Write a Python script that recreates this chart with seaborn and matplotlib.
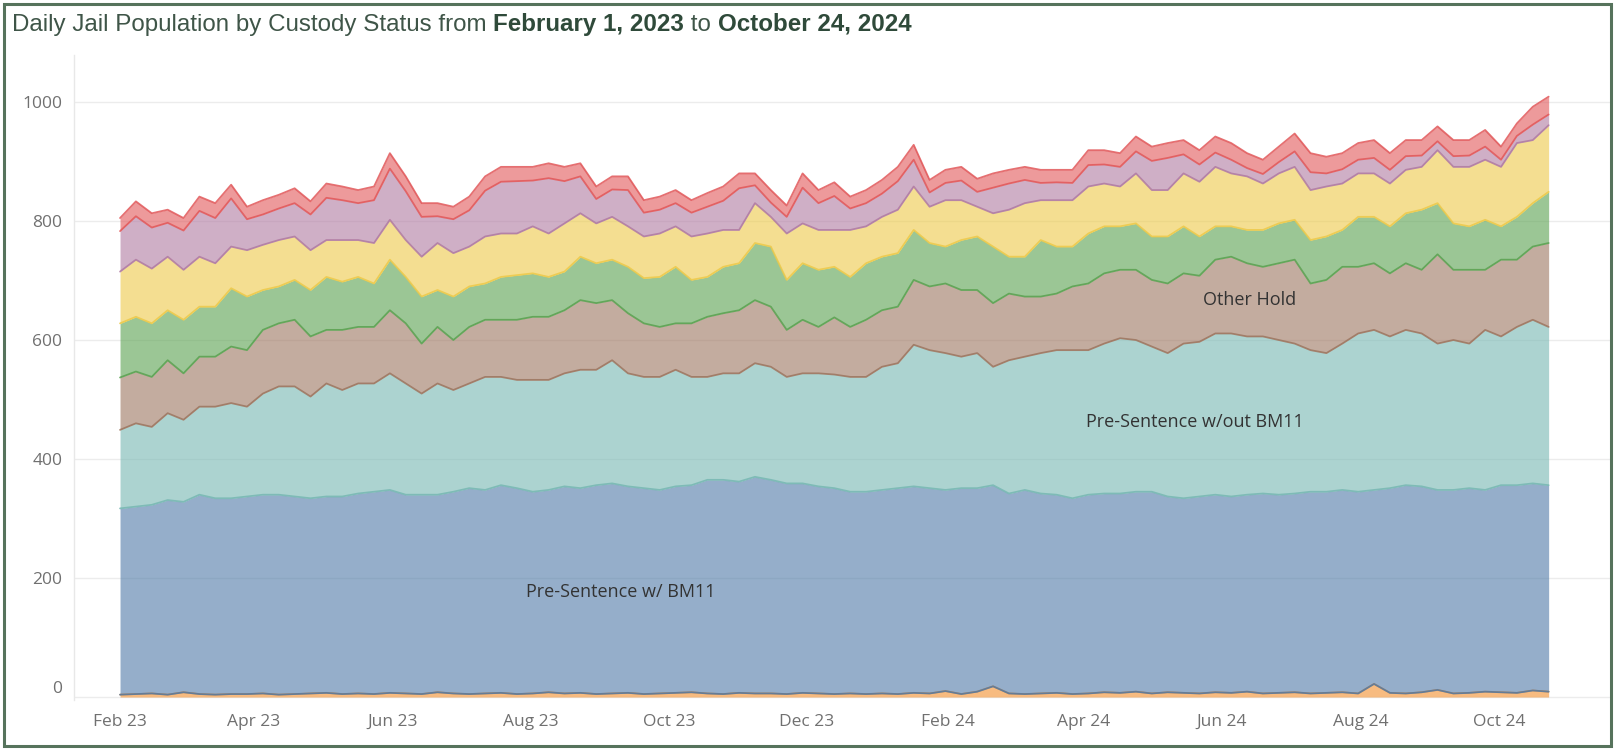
import numpy as np
import pandas as pd
import matplotlib
matplotlib.use("Agg")
import matplotlib.pyplot as plt
import matplotlib.dates as mdates
from matplotlib.patches import Rectangle
import seaborn as sns

# weekly readings, first week starts 1 Feb 2023
start_date = "2023-02-01"

status_orange = [4, 5, 6, 4, 8, 5, 4, 5, 5, 6, 4, 5, 6, 7, 5, 6, 5, 7, 6, 5, 8, 6, 5,
                 6, 7, 5, 6, 8, 6, 7, 5, 6, 7, 5, 6, 7, 8, 6, 5, 7, 6, 6, 5, 7, 6, 5,
                 6, 5, 6, 5, 7, 6, 10, 5, 9, 18, 6, 5, 6, 7, 5, 6, 8, 7, 9, 6, 8, 7, 6,
                 8, 7, 9, 6, 7, 8, 6, 7, 8, 6, 22, 7, 6, 8, 12, 6, 7, 9, 8, 7, 11, 9]

pre_bm11 = [313, 315, 317, 327, 320, 335, 330, 329, 332, 334, 336, 332, 328, 330, 332, 336, 340, 341, 334, 335, 332, 339, 346,
            342, 349, 346, 339, 340, 348, 344, 351, 353, 347, 346, 342, 347, 348, 359, 360, 355, 364, 359, 354, 352, 348, 346,
            339, 340, 342, 346, 347, 345, 338, 346, 342, 338, 336, 343, 336, 333, 329, 334, 334, 335, 336, 339, 329, 327, 331,
            332, 330, 331, 336, 333, 334, 339, 338, 340, 339, 326, 344, 350, 346, 336, 342, 344, 339, 348, 349, 348, 347]

pre_no_bm11 = [132, 140, 131, 146, 138, 148, 154, 160, 151, 170, 182, 185, 171, 190, 179, 185, 182, 196, 187, 170, 187, 171, 176,
               190, 182, 182, 188, 185, 190, 199, 194, 207, 190, 187, 190, 196, 182, 173, 179, 182, 191, 190, 179, 185, 190, 191,
               193, 193, 207, 210, 238, 232, 230, 221, 227, 199, 224, 224, 236, 243, 249, 243, 252, 261, 255, 244, 241, 260, 260,
               271, 274, 266, 264, 260, 252, 238, 233, 246, 266, 269, 255, 261, 257, 246, 252, 243, 269, 250, 266, 275, 266]

other_hold = [88, 87, 84, 89, 78, 84, 84, 95, 95, 107, 106, 112, 101, 90, 101, 95, 95, 106, 101, 84, 95, 84, 95,
              96, 96, 101, 106, 106, 106, 117, 112, 101, 101, 90, 84, 78, 90, 101, 101, 106, 106, 101, 79, 90, 78, 96,
              84, 96, 95, 95, 109, 107, 117, 112, 106, 107, 112, 101, 95, 95, 107, 112, 118, 115, 118, 112, 117, 118, 111,
              124, 129, 123, 117, 129, 141, 112, 123, 129, 112, 112, 106, 112, 107, 150, 118, 124, 101, 129, 113, 123, 141]

status_green = [91, 92, 90, 84, 90, 84, 84, 98, 90, 67, 62, 67, 78, 89, 81, 84, 73, 85, 78, 79, 62, 73, 68,
                61, 72, 75, 73, 67, 65, 73, 67, 68, 78, 76, 84, 95, 73, 67, 78, 79, 96, 101, 84, 95, 96, 85,
                84, 95, 90, 90, 84, 73, 62, 84, 90, 95, 62, 67, 95, 79, 67, 84, 79, 73, 78, 73, 79, 79, 66,
                56, 51, 56, 62, 67, 67, 73, 73, 62, 84, 78, 79, 84, 101, 86, 78, 73, 84, 56, 72, 73, 86]

status_yellow = [87, 96, 92, 90, 84, 84, 73, 70, 78, 76, 78, 73, 67, 62, 70, 62, 68, 67, 62, 67, 79, 73, 67,
                 79, 73, 70, 79, 73, 81, 73, 67, 72, 68, 70, 73, 68, 73, 73, 62, 56, 67, 50, 78, 67, 67, 62,
                 79, 62, 67, 73, 73, 61, 78, 67, 50, 56, 79, 90, 67, 78, 78, 79, 72, 67, 84, 78, 78, 89, 92,
                 100, 89, 90, 78, 84, 89, 84, 84, 78, 73, 73, 72, 73, 72, 89, 95, 100, 101, 100, 124, 106, 112]

status_purple = [68, 73, 69, 57, 66, 77, 76, 81, 52, 51, 53, 56, 60, 71, 67, 62, 72, 86, 82, 67, 45, 57, 61,
                 77, 87, 88, 77, 93, 71, 62, 41, 46, 61, 40, 40, 39, 40, 45, 49, 70, 30, 24, 28, 60, 45, 57,
                 36, 39, 39, 48, 45, 24, 29, 33, 25, 43, 44, 39, 29, 30, 29, 36, 32, 33, 37, 49, 54, 32, 29,
                 24, 23, 14, 16, 19, 26, 30, 22, 24, 23, 26, 23, 23, 19, 15, 18, 19, 22, 12, 12, 26, 18]

status_red = [22, 25, 24, 22, 21, 24, 25, 23, 21, 24, 23, 25, 22, 24, 23, 22, 23, 26, 25, 23, 22, 21, 23,
              24, 25, 24, 23, 25, 24, 22, 21, 22, 23, 21, 22, 22, 21, 23, 24, 25, 20, 21, 19, 24, 22, 23,
              20, 22, 23, 24, 25, 21, 22, 23, 22, 24, 23, 22, 22, 21, 22, 25, 24, 23, 25, 24, 25, 24, 24,
              27, 28, 25, 24, 26, 30, 32, 28, 27, 28, 30, 28, 27, 26, 25, 27, 26, 28, 22, 21, 30, 30]

y_ticks = [0, 200, 400, 600, 800, 1000]

dates = pd.date_range(start_date, periods=len(pre_bm11), freq="7D")
layers = [status_orange, pre_bm11, pre_no_bm11, other_hold,
          status_green, status_yellow, status_purple, status_red]
colors = ["#f28e2b", "#4e79a7", "#76b7b2", "#9c755f",
          "#59a14f", "#edc948", "#b07aa1", "#e15759"]

sns.set_theme(style="white")
plt.rcParams["font.family"] = ["Open Sans", "DejaVu Sans"]

W, H = 1614, 749
fig = plt.figure(figsize=(W / 100, H / 100), dpi=100)
ax = fig.add_axes([74 / W, 49 / H, (1611 - 74) / W, (694 - 49) / H])

ax.stackplot(dates, layers, colors=colors, alpha=0.6, linewidth=0, zorder=2)

# edge lines: each area outlines its lower edge, red also on top
cum = np.cumsum(np.array(layers, dtype=float), axis=0)
sns.lineplot(x=dates, y=cum[0], color=colors[0], linewidth=1.2, alpha=0.9, ax=ax, zorder=3)
for i in range(1, len(layers)):
    sns.lineplot(x=dates, y=cum[i - 1], color=colors[i], linewidth=1.3, alpha=0.85, ax=ax, zorder=3)
sns.lineplot(x=dates, y=cum[-1], color=colors[-1], linewidth=1.3, alpha=0.85, ax=ax, zorder=3)

t0 = pd.Timestamp(start_date)
ax.set_xlim(t0 - pd.Timedelta(days=20.3), t0 + pd.Timedelta(days=657.5))
ax.set_ylim(-5, 1079)

ax.set_yticks(y_ticks)
ax.set_yticklabels([str(v) for v in y_ticks])
ax.grid(axis="y", color="#ececec", linewidth=1, zorder=0)
ax.grid(axis="x", visible=False)
for s in ["top", "right", "bottom"]:
    ax.spines[s].set_visible(False)
ax.spines["left"].set_color("#e8e8e8")
ax.spines["left"].set_linewidth(1)

ax.xaxis.set_major_locator(mdates.MonthLocator(bymonth=[2, 4, 6, 8, 10, 12]))
ax.xaxis.set_minor_locator(mdates.MonthLocator())
ax.xaxis.set_major_formatter(mdates.DateFormatter("%b %y"))
ax.tick_params(axis="x", which="both", length=5, width=1, color="#e3e3e3",
               labelsize=12.5, labelcolor="#707070", pad=5)
ax.tick_params(axis="y", length=0, labelsize=12.5, labelcolor="#707070", pad=8.5)
ax.get_yticklabels()[0].set_verticalalignment("bottom")
ax.set_xlabel("")
ax.set_ylabel("")

# area labels
lab_kw = dict(fontsize=13, color="#333333", ha="center", va="center", zorder=5)
ax.text(pd.Timestamp("2023-09-10"), 176, "Pre-Sentence w/ BM11", **lab_kw)
ax.text(pd.Timestamp("2024-05-20"), 462, "Pre-Sentence w/out BM11", **lab_kw)
ax.text(pd.Timestamp("2024-06-13"), 667, "Other Hold", **lab_kw)

# title made of regular and bold pieces
fig.canvas.draw()
renderer = fig.canvas.get_renderer()
parts = [("Daily Jail Population by Custody Status from ", "normal", "#3f5548"),
         ("February 1, 2023", "bold", "#2f4a3a"),
         (" to ", "normal", "#3f5548"),
         ("October 24, 2024", "bold", "#2f4a3a")]
x_px = 12
for txt, weight, col in parts:
    t = fig.text(x_px / W, 1 - 31 / H, txt, fontsize=17.4, fontweight=weight, color=col,
                 family=["Liberation Sans", "DejaVu Sans"], va="baseline", ha="left")
    bb = t.get_window_extent(renderer=renderer)
    x_px += bb.width

fig.patches.append(Rectangle((3.5 / W, 3.5 / H), 1 - 7 / W, 1 - 7 / H, transform=fig.transFigure,
                             fill=False, edgecolor="#56735c", linewidth=2.2, zorder=10))

fig.savefig("out.png", dpi=100)
